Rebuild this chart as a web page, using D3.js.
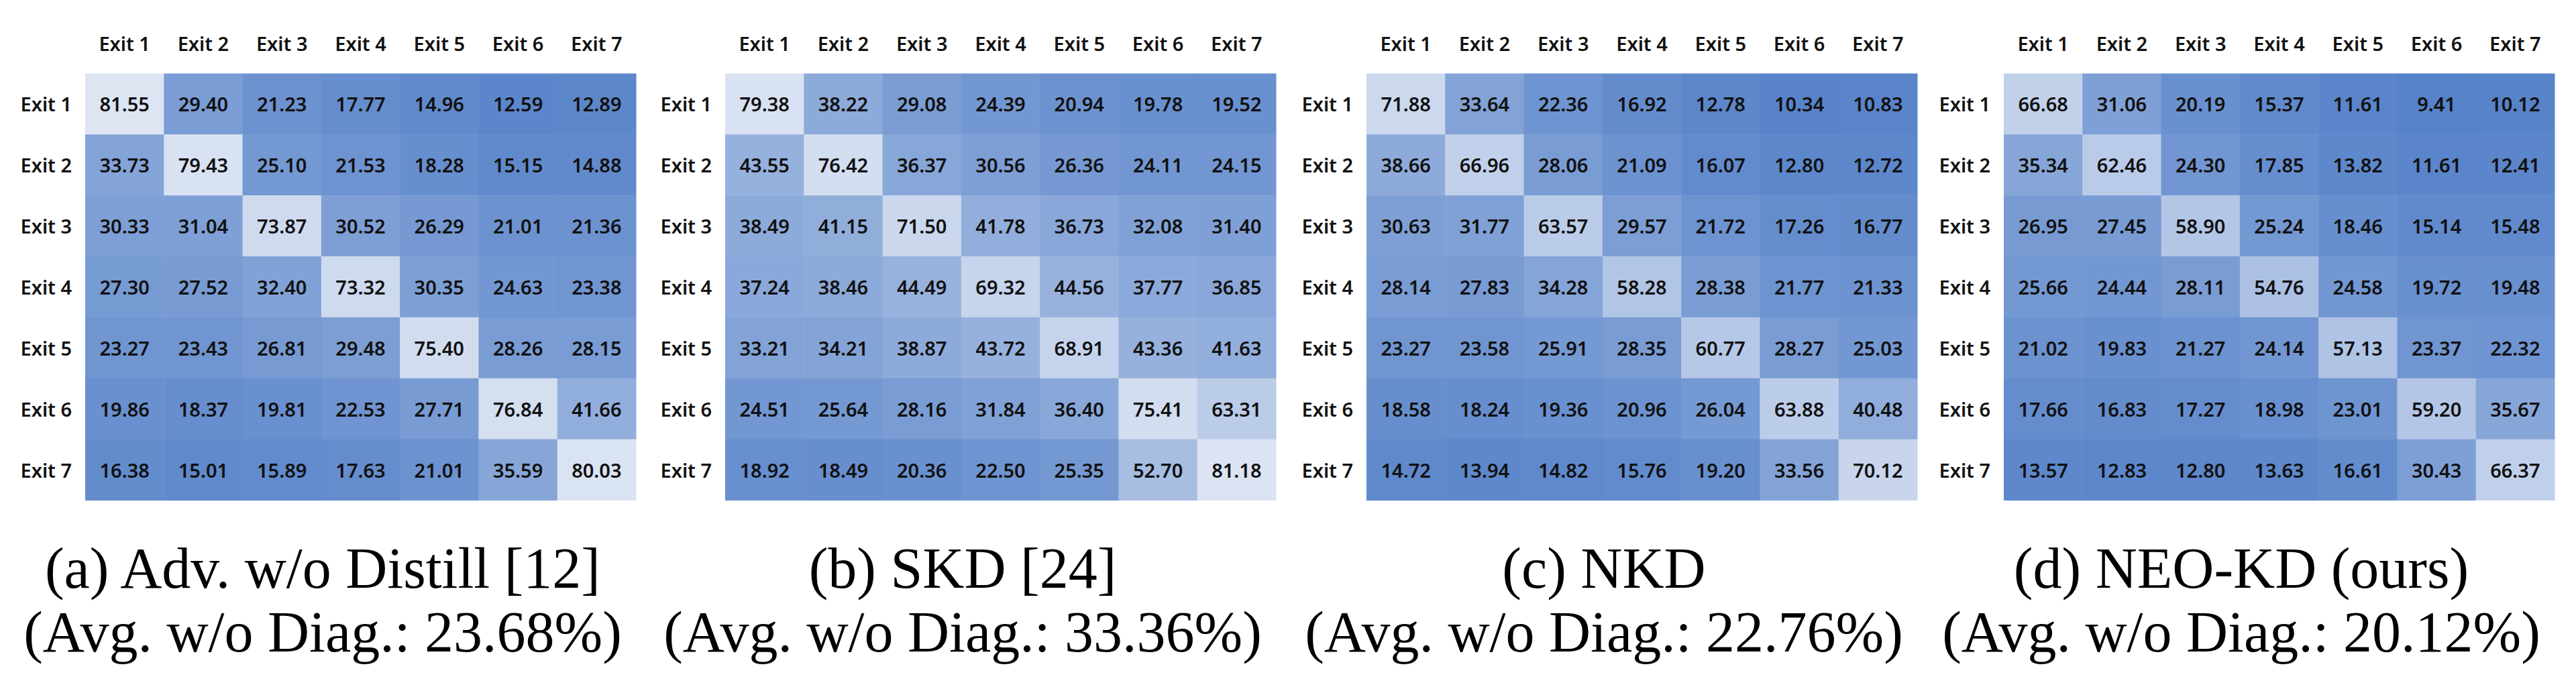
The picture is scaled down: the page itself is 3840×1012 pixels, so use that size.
<!DOCTYPE html>
<html>
<head>
<meta charset="utf-8">
<script src="https://cdn.jsdelivr.net/npm/d3@7/dist/d3.min.js"></script>
<style>
  html, body { margin: 0; padding: 0; background: #ffffff; }
  svg { display: block; }
</style>
</head>
<body>
<svg id="chart" width="3840" height="1012"></svg>
<script>
// ---------------- DATA ----------------
const exits = ["Exit 1", "Exit 2", "Exit 3", "Exit 4", "Exit 5", "Exit 6", "Exit 7"];

const captionsTitle = ["(a) Adv. w/o Distill [12]", "(b) SKD [24]", "(c) NKD", "(d) NEO-KD (ours)"];
const captionsAvg = ["(Avg. w/o Diag.: 23.68%)", "(Avg. w/o Diag.: 33.36%)", "(Avg. w/o Diag.: 22.76%)", "(Avg. w/o Diag.: 20.12%)"];

const advWoDistill = [
  [81.55, 29.40, 21.23, 17.77, 14.96, 12.59, 12.89],
  [33.73, 79.43, 25.10, 21.53, 18.28, 15.15, 14.88],
  [30.33, 31.04, 73.87, 30.52, 26.29, 21.01, 21.36],
  [27.30, 27.52, 32.40, 73.32, 30.35, 24.63, 23.38],
  [23.27, 23.43, 26.81, 29.48, 75.40, 28.26, 28.15],
  [19.86, 18.37, 19.81, 22.53, 27.71, 76.84, 41.66],
  [16.38, 15.01, 15.89, 17.63, 21.01, 35.59, 80.03]
];
const skd = [
  [79.38, 38.22, 29.08, 24.39, 20.94, 19.78, 19.52],
  [43.55, 76.42, 36.37, 30.56, 26.36, 24.11, 24.15],
  [38.49, 41.15, 71.50, 41.78, 36.73, 32.08, 31.40],
  [37.24, 38.46, 44.49, 69.32, 44.56, 37.77, 36.85],
  [33.21, 34.21, 38.87, 43.72, 68.91, 43.36, 41.63],
  [24.51, 25.64, 28.16, 31.84, 36.40, 75.41, 63.31],
  [18.92, 18.49, 20.36, 22.50, 25.35, 52.70, 81.18]
];
const nkd = [
  [71.88, 33.64, 22.36, 16.92, 12.78, 10.34, 10.83],
  [38.66, 66.96, 28.06, 21.09, 16.07, 12.80, 12.72],
  [30.63, 31.77, 63.57, 29.57, 21.72, 17.26, 16.77],
  [28.14, 27.83, 34.28, 58.28, 28.38, 21.77, 21.33],
  [23.27, 23.58, 25.91, 28.35, 60.77, 28.27, 25.03],
  [18.58, 18.24, 19.36, 20.96, 26.04, 63.88, 40.48],
  [14.72, 13.94, 14.82, 15.76, 19.20, 33.56, 70.12]
];
const neoKd = [
  [66.68, 31.06, 20.19, 15.37, 11.61, 9.41, 10.12],
  [35.34, 62.46, 24.30, 17.85, 13.82, 11.61, 12.41],
  [26.95, 27.45, 58.90, 25.24, 18.46, 15.14, 15.48],
  [25.66, 24.44, 28.11, 54.76, 24.58, 19.72, 19.48],
  [21.02, 19.83, 21.27, 24.14, 57.13, 23.37, 22.32],
  [17.66, 16.83, 17.27, 18.98, 23.01, 59.20, 35.67],
  [13.57, 12.83, 12.80, 13.63, 16.61, 30.43, 66.37]
];
const matrices = [advWoDistill, skd, nkd, neoKd];

// ---------------- LAYOUT ----------------
const panelLeft = [127, 1081, 2037, 2987];
const gridW = 821;
const gridTop = 109.5, gridBottom = 745.5;
const colLabelBaseline = 76;
const captionOffset = 354;
const captionBase1 = 876, captionBase2 = 971;

const svg = d3.select("#chart");
svg.append("rect").attr("width", 3840).attr("height", 1012).attr("fill", "#ffffff");

const allVals = matrices.flat(2);
const color = d3.scaleLinear()
  .domain([d3.min(allVals), d3.max(allVals)])
  .range(["#5682c9", "#dde5f3"])
  .interpolate(d3.interpolateRgb);

const labelFont = "'Noto Sans', 'Open Sans', sans-serif";

matrices.forEach((m, p) => {
  const left = panelLeft[p];
  const x = d3.scaleBand().domain(exits).range([left, left + gridW]).padding(0);
  const y = d3.scaleBand().domain(exits).range([gridTop, gridBottom]).padding(0);
  const g = svg.append("g").attr("class", "panel");

  const cells = [];
  m.forEach((row, i) => row.forEach((v, j) => cells.push({ r: exits[i], c: exits[j], v })));

  g.selectAll("rect.cell").data(cells).join("rect")
    .attr("class", "cell")
    .attr("x", d => x(d.c))
    .attr("y", d => y(d.r))
    .attr("width", x.bandwidth() + 0.5)
    .attr("height", y.bandwidth() + 0.5)
    .attr("fill", d => color(d.v));

  g.selectAll("text.val").data(cells).join("text")
    .attr("class", "val")
    .attr("x", d => x(d.c) + x.bandwidth() / 2)
    .attr("y", d => y(d.r) + y.bandwidth() / 2 + 11.5)
    .attr("text-anchor", "middle")
    .attr("font-family", labelFont)
    .attr("font-weight", 600)
    .attr("font-size", 29)
    .attr("fill", "#111111")
    .text(d => d.v.toFixed(2));

  // column labels (top)
  g.selectAll("text.col").data(exits).join("text")
    .attr("class", "col")
    .attr("x", d => x(d) + x.bandwidth() / 2)
    .attr("y", colLabelBaseline)
    .attr("text-anchor", "middle")
    .attr("font-family", labelFont)
    .attr("font-weight", 600)
    .attr("font-size", 29)
    .attr("fill", "#111111")
    .text(d => d);

  // row labels (left)
  g.selectAll("text.row").data(exits).join("text")
    .attr("class", "row")
    .attr("x", left - 20)
    .attr("y", d => y(d) + y.bandwidth() / 2 + 11.5)
    .attr("text-anchor", "end")
    .attr("font-family", labelFont)
    .attr("font-weight", 600)
    .attr("font-size", 29)
    .attr("fill", "#111111")
    .text(d => d);

  // captions
  const cx = left + captionOffset;
  g.append("text")
    .attr("x", cx).attr("y", captionBase1)
    .attr("text-anchor", "middle")
    .attr("font-family", "'Liberation Serif', 'Times New Roman', serif")
    .attr("font-size", 86)
    .attr("fill", "#000000")
    .text(captionsTitle[p]);
  g.append("text")
    .attr("x", cx).attr("y", captionBase2)
    .attr("text-anchor", "middle")
    .attr("font-family", "'Liberation Serif', 'Times New Roman', serif")
    .attr("font-size", 86)
    .attr("fill", "#000000")
    .text(captionsAvg[p]);
});
</script>
</body>
</html>
